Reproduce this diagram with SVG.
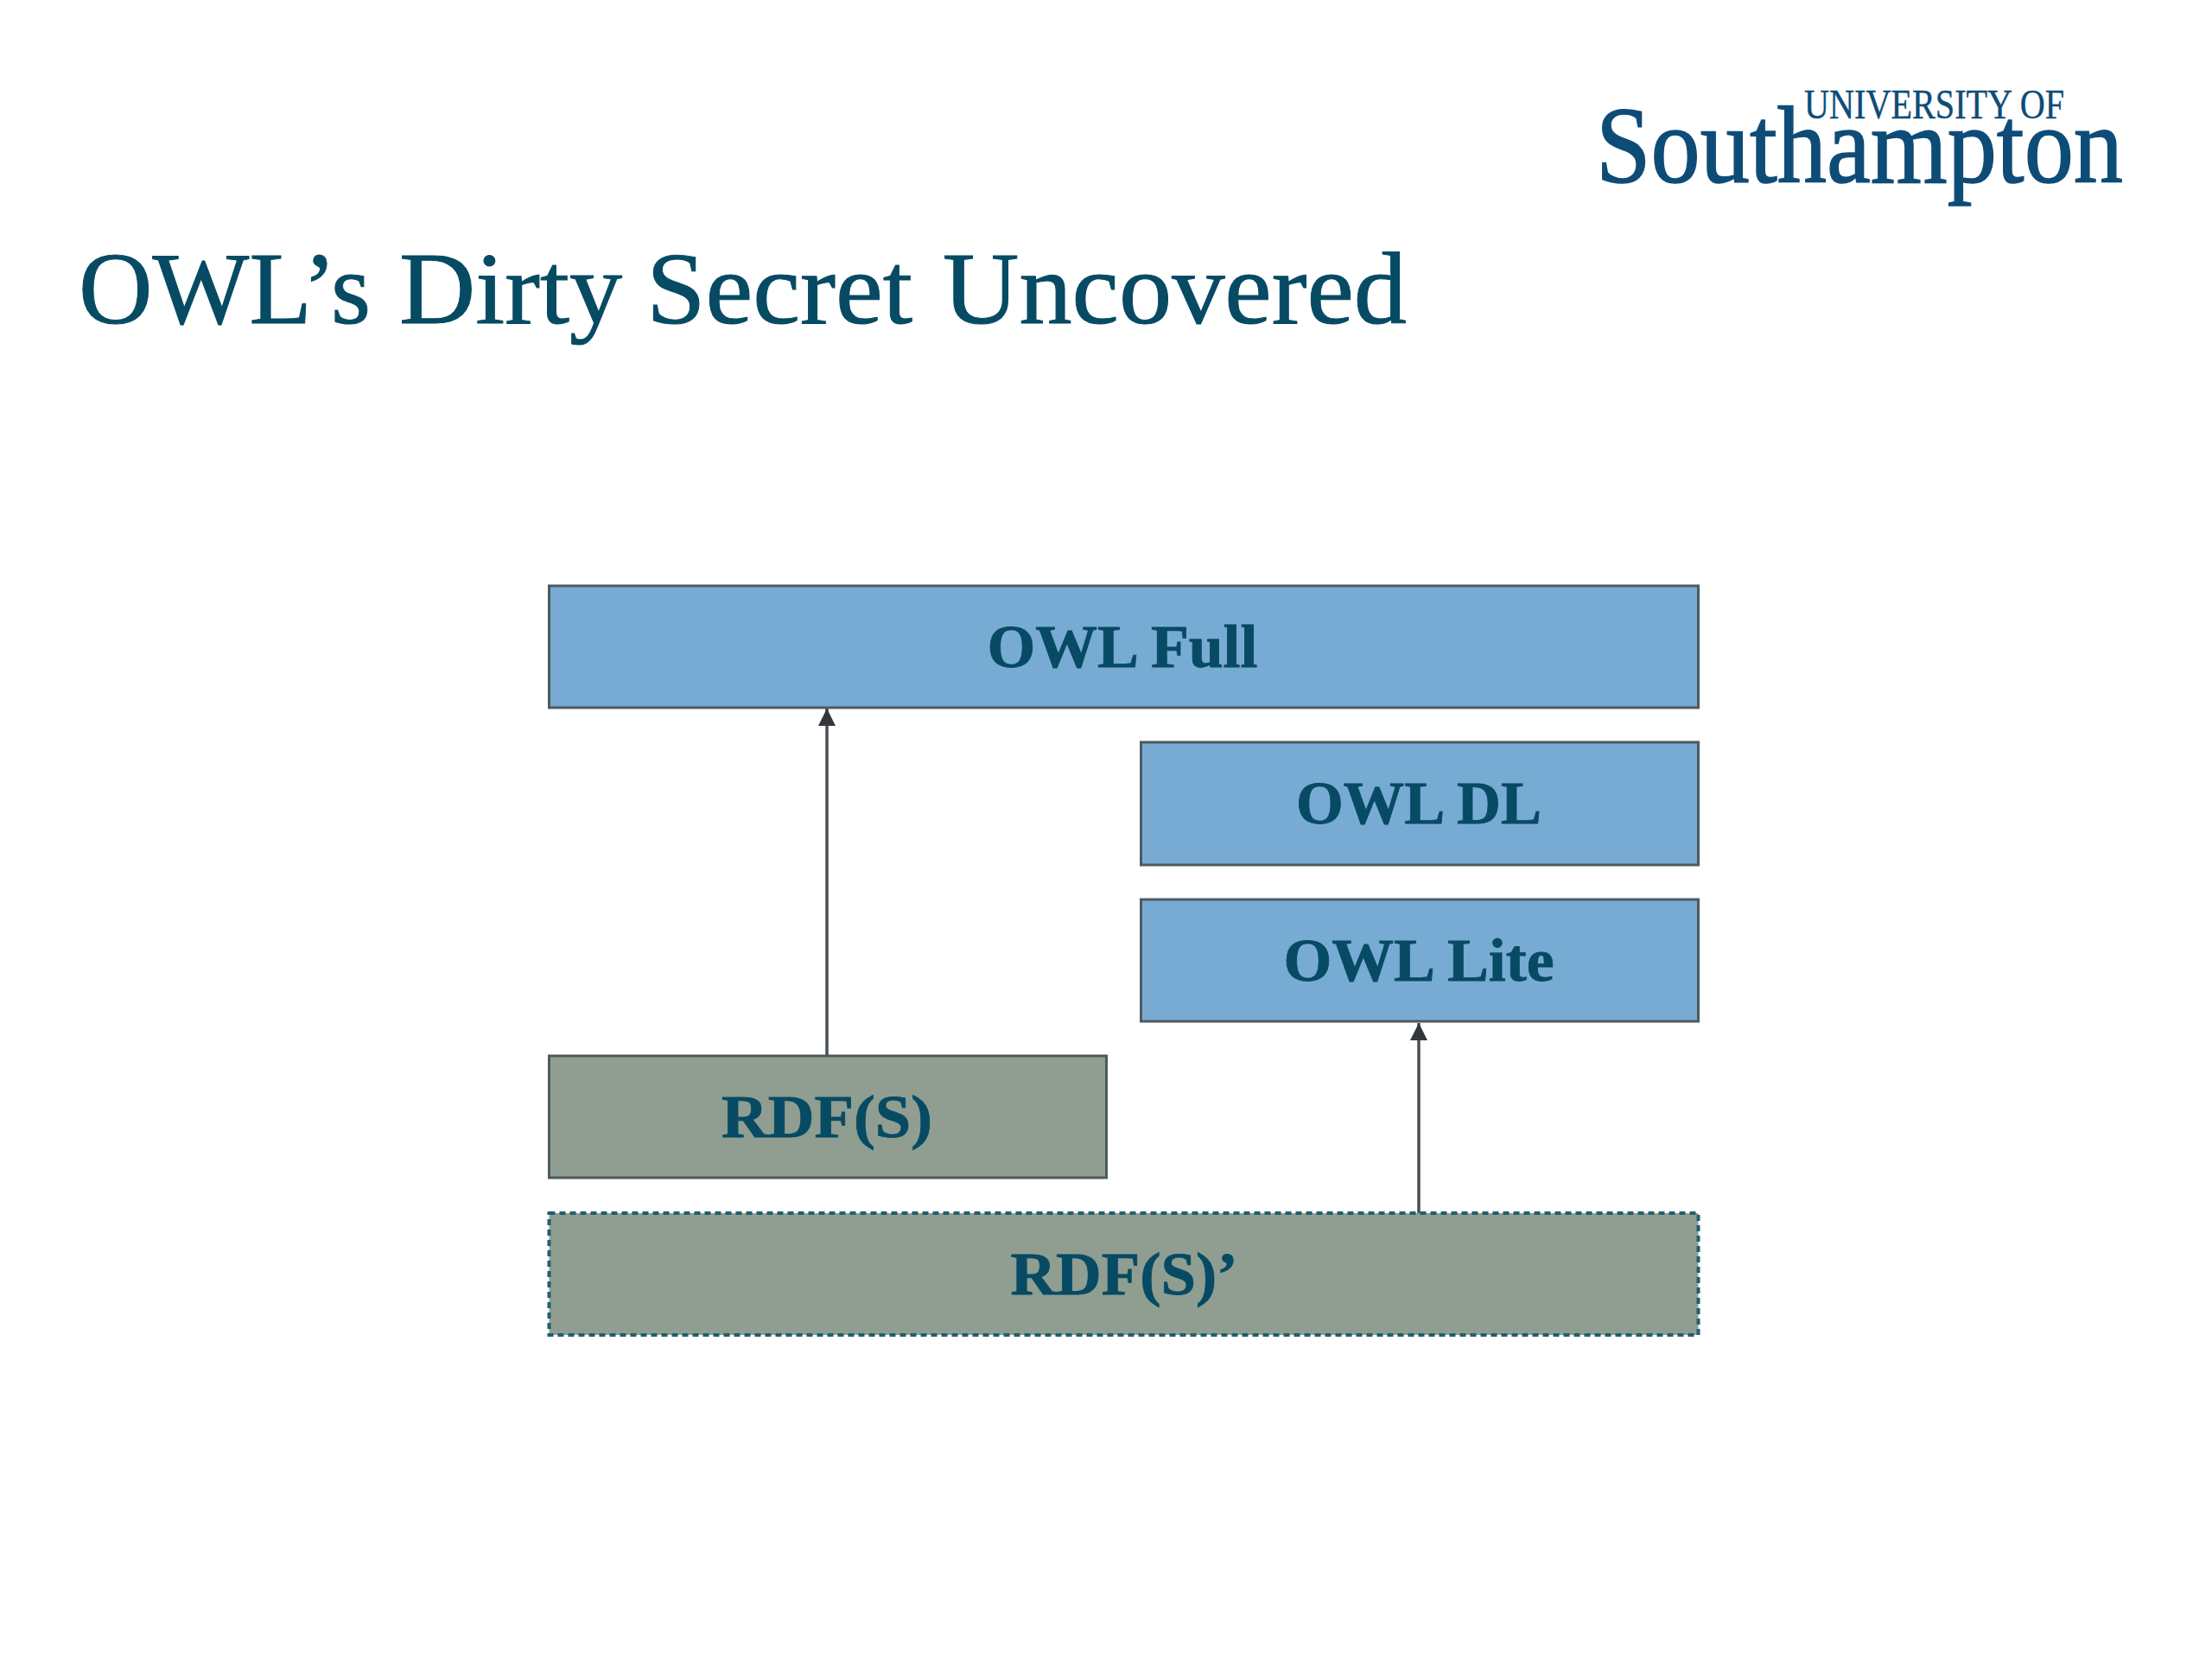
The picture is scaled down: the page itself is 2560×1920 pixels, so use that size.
<svg xmlns="http://www.w3.org/2000/svg" width="2560" height="1920" viewBox="0 0 2560 1920">
<style>
.box{stroke:#4d5a60;stroke-width:3}
.blue{fill:#78abd3}
.grey{fill:#8f9e90}
.lbl{font-family:"Liberation Serif",serif;font-weight:700;font-size:70px;fill:#074a63;text-anchor:middle;stroke:#074a63;stroke-width:.8}
.conn{stroke:#4a4f55;stroke-width:3.5;fill:none;marker-end:url(#a)}
.logo{font-family:"Liberation Serif",serif;fill:#0e4c78;stroke:#0e4c78}
</style>
<defs><marker id="a" markerUnits="userSpaceOnUse" markerWidth="20" markerHeight="20" refX="20" refY="10" orient="auto"><path d="M0 0L20 10L0 20Z" fill="#33373c"/></marker></defs>
<rect width="2560" height="1920" fill="#fff"/>
<text x="91" y="374" font-family="Liberation Serif, serif" font-size="118" fill="#074a63" stroke="#074a63" stroke-width="1"><tspan x="91" textLength="338" lengthAdjust="spacingAndGlyphs">OWL’s</tspan> <tspan x="462" textLength="258" lengthAdjust="spacingAndGlyphs">Dirty</tspan> <tspan x="748" textLength="308" lengthAdjust="spacingAndGlyphs">Secret</tspan> <tspan x="1091" textLength="537" lengthAdjust="spacingAndGlyphs">Uncovered</tspan></text>
<g id="logo">
<text class="logo" x="2088" y="137" font-size="48" stroke-width=".4" textLength="301" lengthAdjust="spacingAndGlyphs">UNIVERSITY OF</text>
<text class="logo" x="1847" y="211" font-size="128" stroke-width="1.5" textLength="610" lengthAdjust="spacingAndGlyphs">Southampton</text>
</g>
<g id="owl-full"><rect class="box blue" x="635.5" y="678" width="1330" height="141"/><text class="lbl" x="1299" y="772" textLength="313" lengthAdjust="spacingAndGlyphs">OWL Full</text></g>
<g id="owl-dl"><rect class="box blue" x="1320.5" y="859" width="645" height="142"/><text class="lbl" x="1642" y="953" textLength="284" lengthAdjust="spacingAndGlyphs">OWL DL</text></g>
<g id="owl-lite"><rect class="box blue" x="1320.5" y="1041" width="645" height="141"/><text class="lbl" x="1642" y="1135" textLength="313" lengthAdjust="spacingAndGlyphs">OWL Lite</text></g>
<g id="rdfs"><rect class="box grey" x="635.5" y="1222" width="645" height="141"/><text class="lbl" x="957" y="1316" textLength="244" lengthAdjust="spacingAndGlyphs">RDF(S)</text></g>
<g id="rdfs-prime"><rect x="635.5" y="1404" width="1330" height="141" fill="#8f9e90" stroke="#1f5f70" stroke-width="4" stroke-dasharray="7 5"/><text class="lbl" x="1301" y="1498" textLength="263" lengthAdjust="spacingAndGlyphs">RDF(S)’</text></g>
<g id="connectors">
<line class="conn" x1="957" y1="1222" x2="957" y2="820"/>
<line class="conn" x1="1642" y1="1404" x2="1642" y2="1184"/>
</g>
</svg>
